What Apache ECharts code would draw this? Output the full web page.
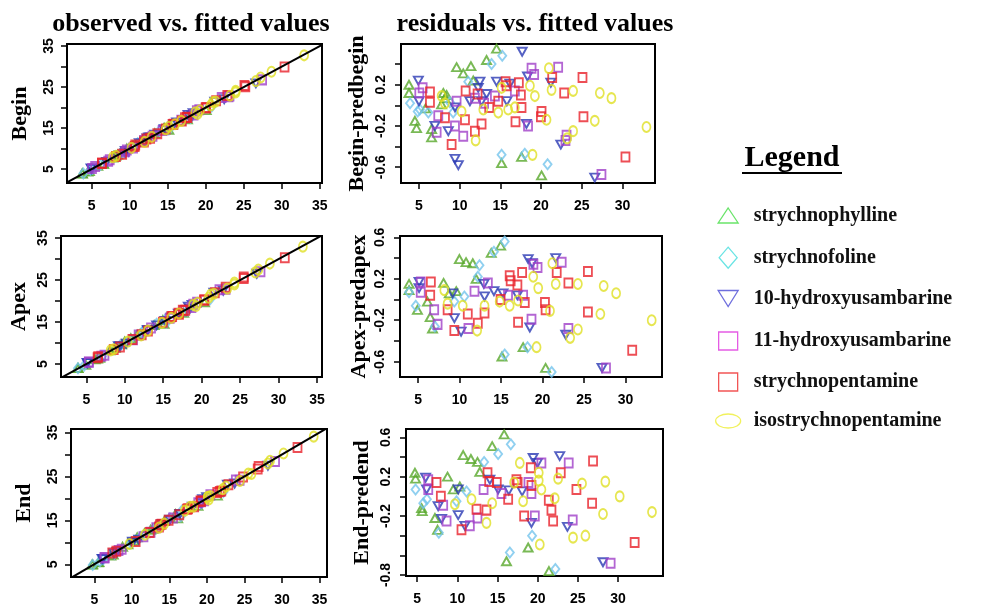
<!DOCTYPE html>
<html>
<head>
<meta charset="utf-8">
<script src="https://cdn.jsdelivr.net/npm/echarts@6/dist/echarts.min.js"></script>
<style>
  html, body { margin: 0; padding: 0; background: #fff; }
  #chart { width: 986px; height: 610px; }
</style>
</head>
<body>
<div id="chart"></div>
<script>
// Compounds, in legend order
const species = [
  'strychnophylline',
  'strychnofoline',
  '10-hydroxyusambarine',
  '11-hydroxyusambarine',
  'strychnopentamine',
  'isostrychnopentamine'
];

const rowNames = ['Begin', 'Apex', 'End'];
const residNames = ['Begin-predbegin', 'Apex-predapex', 'End-predend'];
const panelTitles = ['observed vs. fitted values', 'residuals vs. fitted values'];

// Tick positions and labelled ticks
const obsTicks = [5, 10, 15, 20, 25, 30, 35];
const obsYLabels = [5, 15, 25, 35];
const residXTicks = [5, 10, 15, 20, 25, 30];
const residYTicks = [
  [0.4, 0.2, 0, -0.2, -0.4, -0.6],
  [0.6, 0.4, 0.2, 0, -0.2, -0.4, -0.6],
  [0.6, 0.4, 0.2, 0, -0.2, -0.4, -0.6, -0.8]
];
const residYLabels = [
  [0.2, -0.2, -0.6],
  [0.6, 0.2, -0.2, -0.6],
  [0.6, 0.2, -0.2, -0.8]
];

// [fitted value, residual] per compound — Begin
const begin_strychnophylline = [[14.53,0.55],[13.3,0.44],[9.62,0.37],[10.44,0.31],[11.38,0.38],[11.67,0.24],[3.77,0.20],[3.77,0.12],[4.5,-0.15],[4.7,-0.22],[6.55,-0.23],[6.55,-0.31],[7.99,0.12],[8.19,0.07],[7.78,0.01],[15.15,-0.56],[17.6,-0.50],[20.06,-0.68],[5.8,-0.03],[8.4,0.10]];
const begin_strychnofoline = [[15.23,0.48],[13.92,0.40],[3.9,0.02],[4.84,-0.06],[5.1,-0.04],[6.15,-0.07],[11.05,0.23],[8.8,0.03],[15.15,-0.48],[18.0,-0.47],[20.8,-0.57],[9.2,-0.07]];
const begin_hydroxy10 = [[17.68,0.52],[4.92,0.24],[5.0,0.04],[12.49,0.23],[12.28,0.17],[13.3,0.11],[14.53,0.23],[16.17,0.21],[18.34,0.28],[21.2,0.22],[11.26,0.04],[9.42,-0.02],[8.6,-0.25],[6.96,-0.20],[18.2,-0.18],[22.43,-0.38],[9.42,-0.52],[9.83,-0.58],[26.6,-0.70],[12.7,0.04],[15.8,0.04]];
const begin_hydroxy11 = [[18.83,0.36],[22.1,0.37],[19.15,0.30],[16.78,0.14],[14.33,0.09],[23.13,-0.29],[23.0,-0.34],[27.42,-0.67],[10.44,-0.30],[9.42,-0.20],[7.17,-0.26],[5.04,0.12],[5.45,0.17],[7.37,-0.10],[18.4,-0.20],[9.62,0.04],[11.87,0.07],[13.0,0.02]];
const begin_strychnopentamine = [[6.35,0.13],[6.35,0.03],[8.19,-0.12],[9.01,-0.38],[10.65,-0.14],[10.73,0.14],[11.87,-0.25],[12.69,-0.18],[12.2,0.11],[13.63,-0.02],[14.74,0.04],[15.64,0.23],[15.76,0.19],[17.27,0.22],[17.52,0.10],[17.6,-0.02],[16.86,-0.16],[20.06,-0.06],[19.98,-0.11],[21.37,0.27],[22.84,0.12],[25.09,0.27],[25.21,-0.11],[30.37,-0.50]];
const begin_isostrychnopentamine = [[20.96,0.36],[21.29,0.15],[19.24,0.09],[18.63,0.19],[23.94,0.14],[27.22,0.12],[28.65,0.07],[26.6,-0.15],[23.94,-0.25],[23.2,-0.32],[20.67,-0.14],[18.95,-0.48],[32.95,-0.21],[12.9,-0.04],[14.74,-0.07],[15.96,-0.04],[16.78,-0.02],[11.96,-0.34],[10.24,-0.06],[8.19,0.02],[7.78,0.09],[15.15,0.17]];

// Apex
const apex_strychnophylline = [[14.95,0.52],[13.82,0.45],[9.98,0.39],[10.78,0.36],[11.59,0.35],[12.0,0.20],[8.07,0.16],[3.91,0.15],[3.91,0.09],[4.92,-0.10],[6.13,-0.02],[6.46,-0.17],[6.74,-0.28],[17.66,-0.46],[15.11,-0.55],[20.37,-0.66],[8.76,0.06],[9.6,0.08]];
const apex_strychnofoline = [[15.44,0.56],[14.14,0.46],[12.4,0.33],[12.2,0.22],[3.91,0.07],[4.72,-0.06],[9.37,-0.02],[10.58,0.03],[18.19,-0.46],[15.44,-0.53],[21.1,-0.70],[7.02,-0.26]];
const apex_hydroxy10 = [[18.27,0.39],[21.59,0.40],[18.75,0.35],[5.12,0.17],[5.12,0.11],[12.93,0.15],[13.01,0.03],[14.14,0.08],[15.23,0.06],[16.97,0.04],[9.37,-0.18],[10.18,-0.31],[18.47,-0.27],[22.8,-0.34],[27.17,-0.66],[9.17,0.06]];
const apex_hydroxy11 = [[22.31,0.36],[19.4,0.31],[18.9,0.34],[5.32,0.17],[5.32,0.07],[6.94,-0.10],[7.35,-0.24],[11.07,-0.28],[18.67,-0.19],[23.12,-0.28],[27.65,-0.66],[17.66,0.04],[15.84,0.04],[13.41,0.16],[11.8,0.08]];
const apex_strychnopentamine = [[6.54,0.17],[6.46,0.04],[8.56,-0.10],[9.37,-0.30],[10.99,-0.14],[12.2,-0.23],[13.01,-0.13],[16.04,0.23],[16.16,0.18],[17.54,0.26],[16.97,0.14],[17.86,-0.03],[14.95,0.0],[17.05,-0.22],[20.29,-0.03],[20.37,-0.10],[21.71,0.26],[23.12,0.16],[25.47,0.27],[25.47,-0.12],[30.81,-0.49]];
const apex_isostrychnopentamine = [[21.18,0.35],[21.59,0.15],[18.88,0.22],[19.48,0.11],[24.26,0.15],[27.37,0.13],[28.87,0.06],[26.97,-0.14],[24.26,-0.29],[23.33,-0.37],[19.28,-0.46],[20.9,-0.11],[33.16,-0.20],[16.04,-0.06],[14.83,-0.02],[13.01,-0.06],[12.12,-0.30],[10.38,-0.06],[8.56,-0.04],[8.16,0.09],[17.05,-0.01]];

// End
const end_strychnophylline = [[15.82,0.63],[14.33,0.51],[10.72,0.42],[11.68,0.38],[12.5,0.35],[12.79,0.25],[8.77,0.20],[4.71,0.24],[4.79,0.18],[5.54,-0.12],[5.62,-0.15],[7.2,-0.22],[7.53,-0.34],[18.81,-0.52],[16.11,-0.66],[21.4,-0.76],[9.48,0.07],[10.3,0.10]];
const end_strychnofoline = [[16.65,0.53],[15.07,0.43],[13.33,0.35],[4.79,0.07],[5.75,-0.07],[6.2,-0.03],[7.69,-0.37],[9.89,-0.05],[11.14,0.05],[19.3,-0.40],[16.53,-0.57],[22.2,-0.74]];
const end_hydroxy10 = [[19.43,0.39],[22.74,0.41],[19.97,0.34],[6.04,0.19],[6.16,0.07],[14.04,0.17],[15.07,0.07],[16.4,0.06],[18.06,0.05],[10.1,0.07],[8.03,-0.23],[10.1,-0.19],[10.93,-0.30],[19.22,-0.27],[23.7,-0.31],[28.13,-0.67],[7.6,-0.10]];
const end_hydroxy11 = [[20.46,0.34],[23.86,0.34],[6.37,0.17],[6.37,0.07],[8.23,-0.09],[8.65,-0.25],[11.55,-0.30],[19.64,-0.20],[24.36,-0.24],[29.08,-0.68],[18.85,0.14],[19.22,0.03],[15.49,0.03],[13.26,0.07],[12.5,-0.22]];
const end_strychnopentamine = [[7.4,0.14],[7.94,0.0],[10.51,-0.34],[12.38,-0.13],[13.62,-0.14],[13.75,0.24],[13.96,0.15],[16.32,-0.03],[17.35,0.17],[17.5,0.14],[19.22,0.11],[19.14,0.29],[18.31,-0.20],[21.38,-0.04],[21.71,-0.14],[21.92,-0.25],[22.87,0.24],[24.82,0.07],[26.77,-0.07],[26.89,0.36],[32.07,-0.47],[14.9,0.14]];
const end_isostrychnopentamine = [[17.77,0.34],[20.13,0.24],[20.13,0.16],[20.46,0.07],[22.54,0.18],[22.12,-0.02],[25.52,0.13],[28.42,0.15],[30.21,0.0],[28.13,-0.18],[34.23,-0.16],[25.94,-0.40],[24.4,-0.42],[20.26,-0.49],[18.18,-0.05],[14.33,-0.07],[13.62,-0.27],[11.76,-0.03],[9.68,-0.08],[17.06,0.14]];

const rowSets = [
  [begin_strychnophylline, begin_strychnofoline, begin_hydroxy10, begin_hydroxy11, begin_strychnopentamine, begin_isostrychnopentamine],
  [apex_strychnophylline, apex_strychnofoline, apex_hydroxy10, apex_hydroxy11, apex_strychnopentamine, apex_isostrychnopentamine],
  [end_strychnophylline, end_strychnofoline, end_hydroxy10, end_hydroxy11, end_strychnopentamine, end_isostrychnopentamine]
];

// ---- appearance ----
const markerColors = ['#58a82a', '#74c4ec', '#2a3ab4', '#a040c8', '#e8222a', '#e0e024'];
const legendColors = ['#44dd44', '#44dddd', '#4a4ad4', '#dd33dd', '#ee2a2a', '#eeee33'];
const markerShapes = [
  { symbol: 'triangle', rotate: 0, size: [9, 8] },
  { symbol: 'diamond', rotate: 0, size: [8, 10] },
  { symbol: 'triangle', rotate: 180, size: [9, 8] },
  { symbol: 'rect', rotate: 0, size: [8, 9] },
  { symbol: 'rect', rotate: 0, size: [8, 9] },
  { symbol: 'path://M0,5 A4,5 0 1 1 8,5 A4,5 0 1 1 0,5 Z', rotate: 0, size: [8, 10] }
];
const legendIcons = [
  'triangle',
  'diamond',
  'path://M0,0 L20,0 L10,16 Z',
  'rect',
  'rect',
  'path://M0,7 A12.5,7 0 1 1 25,7 A12.5,7 0 1 1 0,7 Z'
];
const legendSizes = [[20, 15], [18, 21], [20, 17], [19, 18], [19, 18], [25, 14]];
const legendRowY = [213, 257, 297, 340, 381, 418];

// panel boxes (px) and axis extents
const panels = [
  { grid: [67, 44, 255, 139], x: [1.75, 35.3], y: [1.6, 35.5] },
  { grid: [401, 44, 254, 139], x: [2.79, 34.0], y: [-0.753, 0.595] },
  { grid: [61, 236, 261, 141], x: [1.7, 35.65], y: [1.9, 35.5] },
  { grid: [400, 236, 262, 141], x: [2.82, 34.4], y: [-0.748, 0.613] },
  { grid: [71, 429, 256, 148], x: [1.9, 36.0], y: [2.1, 35.8] },
  { grid: [406, 429, 257, 147], x: [3.6, 35.6], y: [-0.81, 0.685] }
];
const yNameGaps = [36, 33, 31, 30, 36, 33];

const tickFont = { fontFamily: '"Liberation Sans", Arial, sans-serif', fontWeight: 'bold', fontSize: 14, color: '#000' };
const nameFont = { fontFamily: '"Liberation Serif", "Times New Roman", serif', fontWeight: 'bold', fontSize: 22, color: '#000' };

const grids = [], xAxes = [], yAxes = [], series = [];

panels.forEach((p, i) => {
  const row = Math.floor(i / 2);
  const isResid = i % 2 === 1;
  grids.push({
    left: p.grid[0], top: p.grid[1], width: p.grid[2], height: p.grid[3],
    show: true, borderColor: '#000', borderWidth: 2, backgroundColor: '#fff'
  });
  const xt = isResid ? residXTicks : obsTicks;
  xAxes.push({
    type: 'value', gridIndex: i, min: p.x[0], max: p.x[1], position: 'bottom',
    axisLine: { show: false, onZero: false },
    axisTick: { show: true, length: 6, customValues: xt, lineStyle: { color: '#000', width: 1.5 } },
    axisLabel: { show: true, customValues: xt, margin: 16, ...tickFont },
    splitLine: { show: false }
  });
  const yt = isResid ? residYTicks[row] : obsTicks;
  const yl = isResid ? residYLabels[row] : obsYLabels;
  yAxes.push({
    type: 'value', gridIndex: i, min: p.y[0], max: p.y[1], position: 'left',
    name: isResid ? residNames[row] : rowNames[row],
    nameLocation: 'middle', nameRotate: 90, nameGap: yNameGaps[i],
    nameTextStyle: nameFont,
    axisLine: { show: false, onZero: false },
    axisTick: { show: true, length: 6, customValues: yt, lineStyle: { color: '#000', width: 1.5 } },
    axisLabel: { show: true, customValues: yl, rotate: 90, margin: isResid ? 13 : 11, ...tickFont },
    splitLine: { show: false }
  });
});

rowSets.forEach((sets, row) => {
  sets.forEach((pts, s) => {
    const base = {
      type: 'scatter',
      name: species[s],
      symbol: markerShapes[s].symbol,
      symbolRotate: markerShapes[s].rotate,
      symbolSize: markerShapes[s].size,
      itemStyle: { color: 'rgba(0,0,0,0)', borderColor: markerColors[s], borderWidth: 1.9 },
      emphasis: { disabled: true },
      silent: true,
      z: 2
    };
    // observed = fitted + residual
    series.push({
      ...base,
      xAxisIndex: row * 2, yAxisIndex: row * 2,
      data: pts.map(([f, r]) => [f, Math.round((f + r) * 100) / 100])
    });
    series.push({
      ...base,
      xAxisIndex: row * 2 + 1, yAxisIndex: row * 2 + 1,
      data: pts
    });
  });
  // y = x reference line
  const ref = [0, 40];
  series.push({
    type: 'line', xAxisIndex: row * 2, yAxisIndex: row * 2,
    data: ref.map(v => [v, v]), showSymbol: false, clip: true, silent: true,
    lineStyle: { color: '#000', width: 2 }, z: 3
  });
});

const legends = species.map((name, i) => ({
  left: 717 + (25 - legendSizes[i][0]) / 2 - 2,
  top: legendRowY[i] - legendSizes[i][1] / 2,
  padding: 0,
  selectedMode: false,
  itemWidth: legendSizes[i][0],
  itemHeight: legendSizes[i][1],
  data: [{
    name,
    icon: legendIcons[i],
    itemStyle: { color: 'rgba(0,0,0,0)', borderColor: legendColors[i], borderWidth: 1.3 }
  }],
  textStyle: {
    fontFamily: '"Liberation Serif", "Times New Roman", serif',
    fontWeight: 'bold', fontSize: 20, color: '#111',
    padding: [0, 0, 0, 33 - legendSizes[i][0] - (25 - legendSizes[i][0]) / 2]
  }
}));

const chart = echarts.init(document.getElementById('chart'), null, { renderer: 'canvas' });
chart.setOption({
  animation: false,
  backgroundColor: '#fff',
  grid: grids,
  xAxis: xAxes,
  yAxis: yAxes,
  legend: legends,
  series,
  graphic: [
    { type: 'text', x: 191, y: 24, style: { text: panelTitles[0], font: 'bold 26px "Liberation Serif", serif', fill: '#000', align: 'center', verticalAlign: 'middle' } },
    { type: 'text', x: 535, y: 24, style: { text: panelTitles[1], font: 'bold 26px "Liberation Serif", serif', fill: '#000', align: 'center', verticalAlign: 'middle' } },
    { type: 'text', x: 792, y: 158, style: { text: 'Legend', font: 'bold 30px "Liberation Serif", serif', fill: '#000', align: 'center', verticalAlign: 'middle' } },
    { type: 'line', shape: { x1: 742, y1: 173, x2: 842, y2: 173 }, style: { stroke: '#000', lineWidth: 2 } }
  ]
});
</script>
</body>
</html>
